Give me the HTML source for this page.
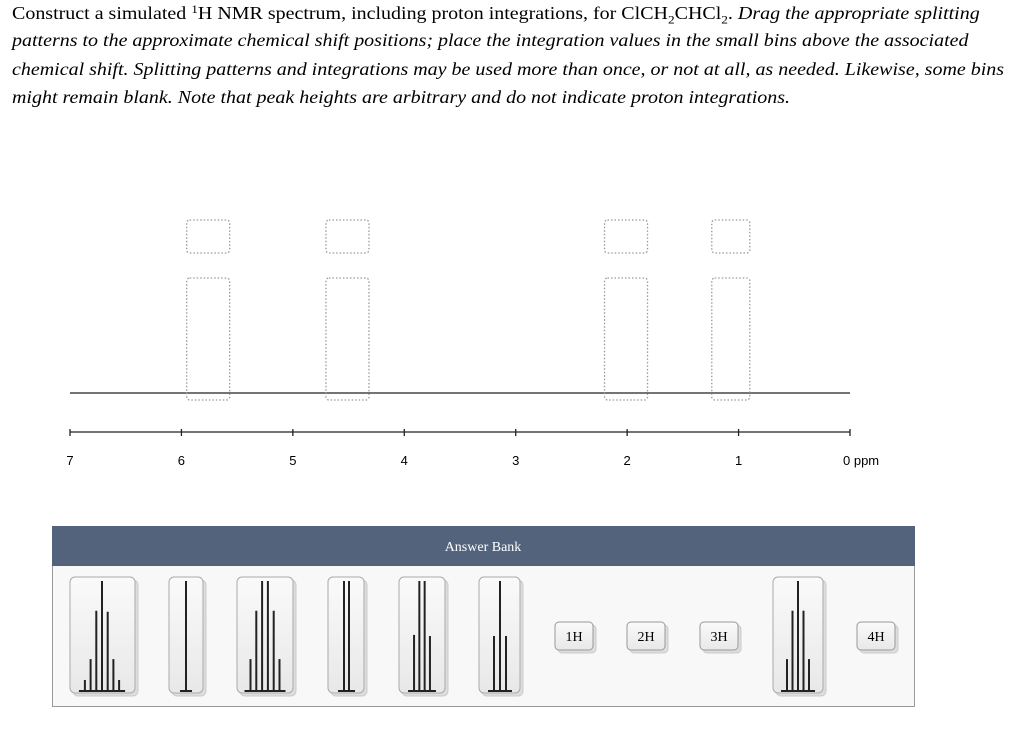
<!DOCTYPE html>
<html><head><meta charset="utf-8">
<style>
body{margin:0;width:1024px;height:729px;background:#fff;position:relative;overflow:hidden;font-family:"Liberation Serif",serif;}
.ln{position:absolute;left:12px;font-size:18px;white-space:nowrap;color:#000;transform:scaleX(1.11);transform-origin:0 0;}
.ln i{font-style:italic}
svg{position:absolute;left:0;top:0}
</style></head><body>
<div class="ln" style="top:2px">Construct a simulated <sup style="font-size:12px;vertical-align:6px">1</sup>H NMR spectrum, including proton integrations, for ClCH<sub style="font-size:12px">2</sub>CHCl<sub style="font-size:12px">2</sub>. <i>Drag the appropriate splitting</i></div>
<div class="ln" style="top:30px"><i>patterns to the approximate chemical shift positions; place the integration values in the small bins above the associated</i></div>
<div class="ln" style="top:59px"><i>chemical shift. Splitting patterns and integrations may be used more than once, or not at all, as needed. Likewise, some bins</i></div>
<div class="ln" style="top:87px"><i>might remain blank. Note that peak heights are arbitrary and do not indicate proton integrations.</i></div>
<svg id="s" width="1024" height="729"></svg>
<script>
const ticks=[7,6,5,4,3,2,1,0];
const binShifts=[5.76,4.51,2.01,1.07];
const intLabels=["1H","2H","3H","4H"];
// splitting patterns: relative peak heights (1 = tallest)
const pat1=[0.1,0.29,0.73,1,0.72,0.29,0.1];
const pat2=[1];
const pat3=[0.29,0.73,1,1,0.73,0.29];
const pat4=[1,1];
const pat5=[0.51,1,1,0.5];
const pat6=[0.5,1,0.5];
const pat7=[0.29,0.73,1,0.73,0.29];
const NS="http://www.w3.org/2000/svg",s=document.getElementById('s');
function el(t,a,p){const e=document.createElementNS(NS,t);for(const k in a)e.setAttribute(k,a[k]);(p||s).appendChild(e);return e;}
const x=v=>850-(v/7)*780;
let e=el('line',{x1:70,y1:393,x2:850,y2:393,stroke:'#222','stroke-width':1.3});

e=el('line',{x1:70,y1:432,x2:850,y2:432,stroke:'#222','stroke-width':1.3});

ticks.forEach(t=>{
 e=el('line',{x1:x(t),y1:429,x2:x(t),y2:436,stroke:'#222','stroke-width':1.3});
 
 e=el('text',{x:t===0?x(t)-7:x(t),y:465,'font-family':'Liberation Sans, sans-serif','font-size':13,'text-anchor':t===0?'start':'middle'});
 e.textContent=t===0?'0 ppm':String(t);
 
});
binShifts.forEach(b=>{
 const cx=x(b),w=b<1.5?38:43;
 e=el('rect',{x:cx-w/2,y:220,width:w,height:33,rx:3,fill:'none',stroke:'#999','stroke-dasharray':'1.5 2','stroke-width':1.3});
 
 e=el('rect',{x:cx-w/2,y:278,width:w,height:122,rx:3,fill:'none',stroke:'#999','stroke-dasharray':'1.5 2','stroke-width':1.3});
 
});
e=el('rect',{x:52.5,y:526.5,width:862,height:180,fill:'#f8f8f8',stroke:'#999'});

e=el('rect',{x:52,y:526,width:863,height:40,fill:'#53637c'});

e=el('text',{x:483,y:551,fill:'#fff','font-size':14,'text-anchor':'middle','font-family':'Liberation Serif, serif'});
e.textContent='Answer Bank';
const defs=el('defs',{});
const g=el('linearGradient',{id:'gr',x1:0,y1:0,x2:0,y2:1},defs);
el('stop',{offset:0,'stop-color':'#fafafa'},g);el('stop',{offset:1,'stop-color':'#e8e8e8'},g);
function tile(x0,x1,name){
 el('rect',{x:x0+3,y:580,width:x1-x0,height:116,rx:5,fill:'#ddd',stroke:'#ccc'});
 const r=el('rect',{x:x0,y:577,width:x1-x0,height:116,rx:5,fill:'url(#gr)',stroke:'#aaa'});
 
}
function pattern(cx,sp,arr,name){
 const n=arr.length,base=691,H=110;
 const first=cx-sp*(n-1)/2;
 const gg=el('g',{});
 el('line',{x1:first-6,y1:base,x2:first+sp*(n-1)+6,y2:base,stroke:'#222','stroke-width':2},gg);
 arr.forEach((h,i)=>el('line',{x1:first+i*sp,y1:base,x2:first+i*sp,y2:base-h*H,stroke:'#222','stroke-width':2},gg));
}
const tiles=[[70,135,102,5.7,pat1,'septet'],[169,203,186,0,pat2,'singlet'],[237,293,265,5.8,pat3,'sextet'],[328,364,346.5,5,pat4,'doublet'],[399,445,422,5.3,pat5,'quartet'],[479,520,500,6,pat6,'triplet'],[773,823,798,5.5,pat7,'quintet']];
tiles.forEach(t=>{tile(t[0],t[1],t[5]+'-tile');pattern(t[2],t[3],t[4],t[5]+'-pattern');});
const btnX=[555,627,700,857];
intLabels.forEach((l,i)=>{
 el('rect',{x:btnX[i]+3,y:625,width:38,height:28,rx:4,fill:'#ddd',stroke:'#ccc'});
 e=el('rect',{x:btnX[i],y:622,width:38,height:28,rx:4,fill:'url(#gr)',stroke:'#999'});
 
 e=el('text',{x:btnX[i]+19,y:641,'font-size':14,'text-anchor':'middle','font-family':'Liberation Serif, serif'});
 e.textContent=l;
});
</script>
</body></html>
